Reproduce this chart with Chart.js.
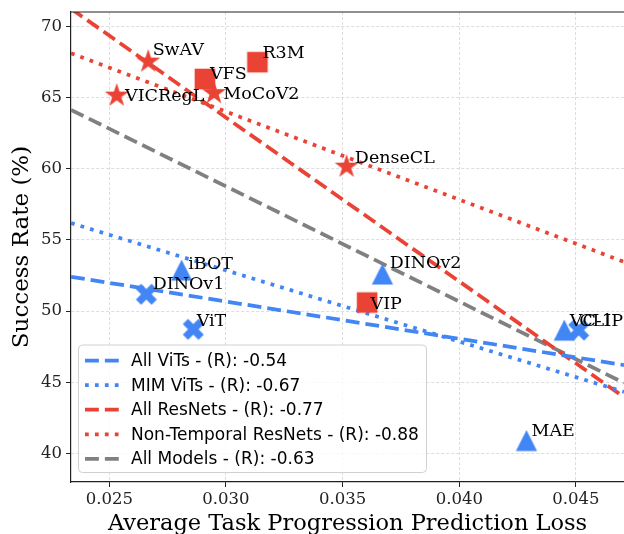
<!DOCTYPE html>
<html><head><meta charset="utf-8">
<script src="https://cdn.jsdelivr.net/npm/chart.js@4.4.0/dist/chart.umd.min.js"></script>
<style>html,body{margin:0;padding:0;background:#fff;} canvas{display:block;}</style>
</head><body>
<canvas id="c" width="624" height="534"></canvas>
<script>
// ---------------- data ----------------
const models = ['SwAV','VICRegL','VFS','MoCoV2','R3M','DenseCL','VIP','DINOv2','iBOT','DINOv1','ViT','MAE','VC-1','CLIP'];
const predictionLoss = [0.02667,0.02532,0.02910,0.02949,0.03135,0.03517,0.03605,0.03671,0.02810,0.02659,0.02860,0.04288,0.04450,0.04512];
const successRate = [67.52,65.13,66.30,65.30,67.48,60.14,50.60,52.60,52.88,51.18,48.72,40.91,48.66,48.66];
const modelGroup = ['ResNet-NT','ResNet-NT','ResNet-T','ResNet-NT','ResNet-T','ResNet-NT','ResNet-T','ViT-MIM','ViT-MIM','ViT','ViT','ViT-MIM','ViT-MIM','ViT'];

const fitNames = ['All ViTs','MIM ViTs','All ResNets','Non-Temporal ResNets','All Models'];
const fitR = [-0.54,-0.67,-0.77,-0.88,-0.63];
const fitLossRange = [0.02336, 0.04706];
const fitStartRate = [52.41,56.18,71.23,68.11,64.13];
const fitEndRate = [46.21,44.33,43.96,53.46,44.96];

const xRange = [0.02336, 0.04706];
const yRange = [38, 71];
const xStep = 0.005, yStep = 5;

// ---------------- styles ----------------
const RED = '#EA4335', BLUE = '#4285F4', GRAY = '#808080';
const LW = 3.75;
const DASHED = [3.7*LW, 1.6*LW], DOTTED = [1*LW, 1.65*LW];
const groupStyle = {
  'ResNet-NT': {marker:'star', color:RED},
  'ResNet-T':  {marker:'square', color:RED},
  'ViT-MIM':   {marker:'triangle', color:BLUE},
  'ViT':       {marker:'x', color:BLUE}
};
const groupOrder = ['ResNet-NT','ResNet-T','ViT-MIM','ViT'];
const fitStyle = [
  {color:BLUE, dash:DASHED},{color:BLUE, dash:DOTTED},
  {color:RED, dash:DASHED},{color:RED, dash:DOTTED},{color:GRAY, dash:DASHED}
];
const labelOffset = {SwAV:[4.4,-6.7], VICRegL:[8.3,5], VFS:[5,0], MoCoV2:[9.3,5.4], R3M:[5,-4],
  DenseCL:[8.3,-3.4], VIP:[3.4,6], DINOv2:[7.3,-5.7], iBOT:[6.6,-0.7], DINOv1:[6.4,-5.2],
  ViT:[3.4,-3.5], MAE:[5,-4.3], 'VC-1':[5.5,-4.3], CLIP:[0.5,-4.3]};

function makeMarker(kind, color) {
  const S = 30; const c = document.createElement('canvas'); c.width = S; c.height = S;
  const g = c.getContext('2d'); g.fillStyle = color; g.translate(S/2, S/2); g.beginPath();
  if (kind === 'star') {
    const R = 12.6, r = R*0.381966;
    for (let i = 0; i < 10; i++) { const a = -Math.PI/2 + i*Math.PI/5; const rr = (i%2) ? r : R; g.lineTo(rr*Math.cos(a), rr*Math.sin(a)); }
  } else if (kind === 'square') {
    g.rect(-10.3,-10.3,20.6,20.6);
  } else if (kind === 'triangle') {
    const h = 10.6; g.moveTo(0,-h); g.lineTo(-h,h); g.lineTo(h,h);
  } else {
    const s = 21;
    const pts = [[0.25,0],[0.5,0.25],[0.75,0],[1,0.25],[0.75,0.5],[1,0.75],[0.75,1],[0.5,0.75],[0.25,1],[0,0.75],[0.25,0.5],[0,0.25]];
    pts.forEach(([a,b]) => g.lineTo((a-0.5)*s, (b-0.5)*s));
  }
  g.closePath(); g.fill(); return c;
}

const datasets = [];
groupOrder.forEach(gname => {
  const st = groupStyle[gname];
  const data = [];
  models.forEach((m,i) => { if (modelGroup[i] === gname) data.push({x:predictionLoss[i], y:successRate[i], name:m}); });
  datasets.push({type:'scatter', label:gname, data, pointStyle:makeMarker(st.marker, st.color), pointRadius:10,
    backgroundColor:st.color, borderColor:st.color, showLine:false});
});
fitNames.forEach((n,i) => {
  datasets.push({type:'scatter', label:n + ' - (R): ' + fitR[i].toFixed(2), showLine:true, pointRadius:0,
    data:[{x:fitLossRange[0], y:fitStartRate[i]},{x:fitLossRange[1], y:fitEndRate[i]}],
    borderColor:fitStyle[i].color, borderWidth:LW, borderDash:fitStyle[i].dash, borderCapStyle:'butt', fill:false, clip:0, isFit:true});
});

const labelPlugin = {
  id:'labels',
  afterDatasetsDraw(chart) {
    const {ctx, scales:{x, y}} = chart;
    ctx.save();
    ctx.font = '17.5px "DejaVu Serif"'; ctx.fillStyle = '#000'; ctx.textAlign = 'left'; ctx.textBaseline = 'alphabetic';
    models.forEach((m,i) => {
      const px = x.getPixelForValue(predictionLoss[i]), py = y.getPixelForValue(successRate[i]);
      const o = labelOffset[m] || [5,-4];
      ctx.fillText(m, px + o[0], py + o[1]);
    });
    ctx.restore();
  }
};

const framePlugin = {
  id:'frame',
  afterDraw(chart) {
    const {ctx, chartArea:a} = chart;
    ctx.save();
    ctx.strokeStyle = '#222'; ctx.lineWidth = 1.2;
    ctx.beginPath(); ctx.moveTo(a.left, a.top); ctx.lineTo(a.right, a.top); ctx.stroke();
    // legend
    const L = a.left + 7.5, T = a.top + 333, W = 348, H = 127.5, rad = 4;
    ctx.beginPath();
    ctx.roundRect(L, T, W, H, rad);
    ctx.fillStyle = 'rgba(255,255,255,0.8)'; ctx.fill();
    ctx.strokeStyle = '#d0d0d0'; ctx.lineWidth = 1; ctx.stroke();
    ctx.font = '17px "DejaVu Sans"'; ctx.textBaseline = 'middle'; ctx.textAlign = 'left';
    chart.data.datasets.filter(d => d.isFit).forEach((d,k) => {
      const yy = T + 15.5 + k*24.6;
      ctx.beginPath(); ctx.setLineDash(d.borderDash); ctx.lineCap = 'butt';
      ctx.strokeStyle = d.borderColor; ctx.lineWidth = LW;
      ctx.moveTo(L + 6.5, yy); ctx.lineTo(L + 40.5, yy); ctx.stroke();
      ctx.setLineDash([]);
      ctx.fillStyle = '#000'; ctx.fillText(d.label, L + 52.5, yy + 1);
    });
    ctx.restore();
  }
};

Chart.defaults.font.family = '"DejaVu Serif"';
new Chart(document.getElementById('c'), {
  type:'scatter',
  data:{datasets},
  options:{
    responsive:false, animation:false,
    layout:{autoPadding:false, padding:{top:12, right:0, left:0, bottom:0}},
    plugins:{legend:{display:false}, tooltip:{enabled:false}},
    scales:{
      x:{type:'linear', min:xRange[0], max:xRange[1],
        afterFit:s => { s.height = 52; s.paddingLeft = 0; s.paddingRight = 0; },
        ticks:{stepSize:xStep, includeBounds:false, callback:v => v.toFixed(3), font:{size:16.5}, color:'#222', padding:3, maxRotation:0, autoSkip:false},
        grid:{color:'#d4d4d4', lineWidth:0.8, tickLength:5, tickColor:'#222', tickWidth:1},
        border:{display:true, color:'#222', width:1.2, dash:[3,2]},
        title:{display:true, text:'Average Task Progression Prediction Loss', font:{size:22.5, lineHeight:1.0}, color:'#000', padding:{top:0,bottom:-1.5}}
      },
      y:{type:'linear', min:yRange[0], max:yRange[1],
        afterFit:s => { s.width = 71; s.paddingTop = 0; s.paddingBottom = 0; },
        ticks:{stepSize:yStep, includeBounds:false, callback:v => String(v), font:{size:16.5}, color:'#222', padding:4},
        grid:{color:'#d4d4d4', lineWidth:0.8, tickLength:5, tickColor:'#222', tickWidth:1},
        border:{display:true, color:'#222', width:1.2, dash:[3,2]},
        title:{display:true, text:'Success Rate (%)', font:{size:23, lineHeight:1.2}, color:'#000', padding:{top:8,bottom:0}}
      }
    }
  },
  plugins:[labelPlugin, framePlugin]
});
</script>
</body></html>
